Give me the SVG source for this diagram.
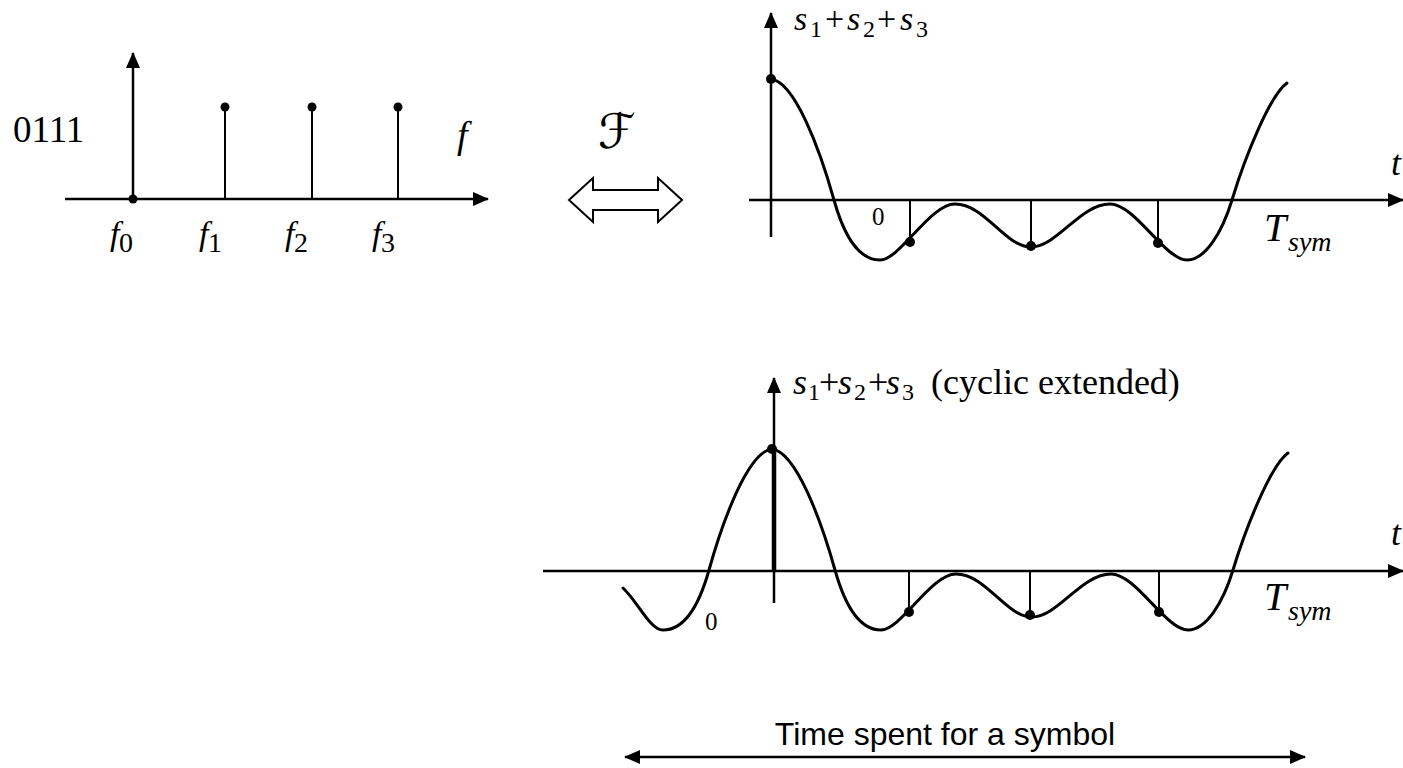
<svg xmlns="http://www.w3.org/2000/svg" width="1403" height="768" viewBox="0 0 1403 768">
<style>
.ax{stroke:#000;stroke-width:2.5;fill:none}
.stem{stroke:#000;stroke-width:2;fill:none}
.wave{stroke:#000;stroke-width:3;fill:none;stroke-linecap:round}
.dot{fill:#000}
.i{font-style:italic}
</style>
<defs>
<marker id="ah" markerUnits="userSpaceOnUse" markerWidth="16" markerHeight="16" viewBox="0 0 16 16" refX="15" refY="8" orient="auto-start-reverse">
<path d="M0,1 L16,8 L0,15 z" fill="#000"/>
</marker>
<path id="wave" d="M771,79 C795,82 820,150 834,200 C846,243 862,260 880,260 C900,260 930,204 955,204 C985,204 1005,247 1031,247 C1057,247 1080,204 1110,204 C1135,204 1165,260 1187,260 C1205,260 1222,233 1232,200 C1245,157 1270,95 1287,83"/>
</defs>

<g id="spectrum" font-family="'Liberation Serif', 'Times New Roman', Times, serif" fill="#000">
<line class="ax" x1="65" y1="199" x2="488" y2="199" marker-end="url(#ah)"/>
<line class="ax" x1="133" y1="199" x2="133" y2="53" marker-end="url(#ah)"/>
<circle class="dot" cx="133" cy="199" r="4.5"/>
<line class="stem" x1="225" y1="199" x2="225" y2="107"/>
<line class="stem" x1="312" y1="199" x2="312" y2="107"/>
<line class="stem" x1="398" y1="199" x2="398" y2="107"/>
<circle class="dot" cx="225" cy="107" r="4.5"/>
<circle class="dot" cx="312" cy="107" r="4.5"/>
<circle class="dot" cx="398" cy="107" r="4.5"/>
<text x="13" y="142" font-size="37">0111</text>
<text class="i" x="457" y="148" font-size="38">f</text>
<text y="245" font-size="34"><tspan class="i" x="110">f</tspan><tspan x="119" y="252" font-size="28">0</tspan></text>
<text y="245" font-size="34"><tspan class="i" x="199">f</tspan><tspan x="208" y="252" font-size="28">1</tspan></text>
<text y="245" font-size="34"><tspan class="i" x="285">f</tspan><tspan x="294" y="252" font-size="28">2</tspan></text>
<text y="245" font-size="34"><tspan class="i" x="372">f</tspan><tspan x="381" y="252" font-size="28">3</tspan></text>
</g>

<g id="transform">
<text class="i" x="598" y="148" font-size="48" font-family="'DejaVu Serif', 'DejaVu Sans', serif">ℱ</text>
</g>

<g id="signal-top" font-family="'Liberation Serif', 'Times New Roman', Times, serif" fill="#000">
<line class="ax" x1="749" y1="200" x2="1403" y2="200" marker-end="url(#ah)"/>
<line class="ax" x1="771" y1="237" x2="771" y2="13" marker-end="url(#ah)"/>
<line class="stem" x1="910" y1="200" x2="910" y2="242"/>
<line class="stem" x1="1031" y1="200" x2="1031" y2="246"/>
<line class="stem" x1="1158" y1="200" x2="1158" y2="243"/>
<use href="#wave" class="wave"/>
<circle class="dot" cx="771" cy="79" r="5"/>
<circle class="dot" cx="910" cy="242" r="5"/>
<circle class="dot" cx="1031" cy="246" r="5"/>
<circle class="dot" cx="1158" cy="243" r="5"/>
<text y="30" font-size="34"><tspan class="i" x="794">s</tspan><tspan x="810" y="37" font-size="24">1</tspan><tspan x="825" y="30">+</tspan><tspan class="i" x="847">s</tspan><tspan x="863" y="37" font-size="24">2</tspan><tspan x="877" y="30">+</tspan><tspan class="i" x="900">s</tspan><tspan x="916" y="37" font-size="24">3</tspan></text>
<text x="872" y="225" font-size="25">0</text>
<text class="i" x="1391" y="175" font-size="36">t</text>
<text y="241" font-size="40"><tspan class="i" x="1264">T</tspan><tspan class="i" x="1288" y="251" font-size="28">sym</tspan></text>
</g>

<g id="signal-bottom" font-family="'Liberation Serif', 'Times New Roman', Times, serif" fill="#000">
<line class="ax" x1="543" y1="571" x2="1403" y2="571" marker-end="url(#ah)"/>
<line class="ax" x1="774" y1="603" x2="774" y2="378" marker-end="url(#ah)"/>
<line x1="774" y1="449" x2="774" y2="571" stroke="#000" stroke-width="4.5"/>
<line class="stem" x1="909" y1="571" x2="909" y2="612"/>
<line class="stem" x1="1030" y1="571" x2="1030" y2="615"/>
<line class="stem" x1="1159" y1="571" x2="1159" y2="612"/>
<path class="wave" d="M623,588 C638,602 650,630 663,630 C681,630 697,613 709,570 C723,520 748,452 772,449"/>
<use href="#wave" class="wave" transform="translate(1,370)"/>
<circle class="dot" cx="772" cy="449" r="5"/>
<circle class="dot" cx="909" cy="612" r="5"/>
<circle class="dot" cx="1030" cy="615" r="5"/>
<circle class="dot" cx="1159" cy="612" r="5"/>
<text y="394" font-size="36"><tspan class="i" x="793">s</tspan><tspan x="808" y="400" font-size="24">1</tspan><tspan x="819" y="394">+</tspan><tspan class="i" x="838">s</tspan><tspan x="854" y="400" font-size="24">2</tspan><tspan x="868" y="394">+</tspan><tspan class="i" x="886">s</tspan><tspan x="902" y="400" font-size="24">3</tspan><tspan x="922" y="394"> (cyclic extended)</tspan></text>
<text x="705" y="630" font-size="25">0</text>
<text class="i" x="1391" y="545" font-size="36">t</text>
<text y="610" font-size="40"><tspan class="i" x="1264">T</tspan><tspan class="i" x="1288" y="620" font-size="28">sym</tspan></text>
</g>

<g id="connectors">
<polygon points="569,200 593,178 593,190 658,190 658,178 682,200 658,222 658,210 593,210 593,222" fill="#fff" stroke="#000" stroke-width="2"/>
<line class="ax" x1="625" y1="757" x2="1305" y2="757" marker-start="url(#ah)" marker-end="url(#ah)"/>
<text x="945" y="745" font-size="32" text-anchor="middle" font-family="'Liberation Sans', Arial, sans-serif" fill="#000">Time spent for a symbol</text>
</g>
</svg>
